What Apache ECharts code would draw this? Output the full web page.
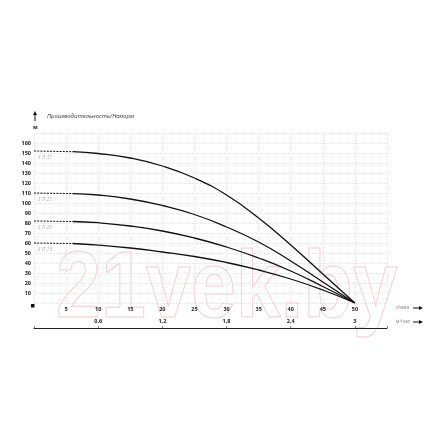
<!DOCTYPE html>
<html><head><meta charset="utf-8">
<script src="https://cdn.jsdelivr.net/npm/echarts@6/dist/echarts.min.js"></script>
<style>html,body{margin:0;padding:0;background:#fff}#c{width:440px;height:440px}</style>
</head><body><div id="c"></div>
<script>
// Flow (l/min) and head (m)
const seriesNames = ['3 П 37', '3 П 27', '3 П 20', '3 П 15'];
const flowDashed = [0, 6];
const headDashed37 = [152, 151.3];
const headDashed27 = [110, 109.4];
const headDashed20 = [82, 81.5];
const headDashed15 = [60, 59.5];
const flowSolid = [6, 10, 15, 20, 25, 30, 35, 40, 45, 50];
const head37 = [151.3, 149.5, 145, 137, 125, 108, 85, 58, 29, 0];
const head27 = [109.4, 108, 104, 97.5, 88.5, 76, 61, 42, 21, 0];
const head20 = [81.5, 80.3, 77, 72, 65, 56, 45, 32, 16.5, 0];
const head15 = [59.5, 57.8, 55, 51, 46.5, 40.5, 33, 24, 13, 0];
const yTicks = [10,20,30,40,50,60,70,80,90,100,110,120,130,140,150,160];
const xTicks = [5,10,15,20,25,30,35,40,45,50];
const m3Ticks = [0.6, 1.2, 1.8, 2.4, 3];

const dashedHeads = [headDashed37, headDashed27, headDashed20, headDashed15];
const solidHeads = [head37, head27, head20, head15];
const zip = (xs, ys) => xs.map((x, i) => [x, ys[i]]);

const chart = echarts.init(document.getElementById('c'), null, {renderer: 'canvas'});
const series = [];
seriesNames.forEach((n, i) => {
  series.push({type: 'line', name: n + ' d', data: zip(flowDashed, dashedHeads[i]), showSymbol: false,
    lineStyle: {color: '#111', width: 1, type: [2, 1.2]}, silent: true, z: 3});
  series.push({type: 'line', name: n, data: zip(flowSolid, solidHeads[i]), showSymbol: false,
    smooth: true,
    lineStyle: {color: '#111', width: 1.3}, silent: true, z: 3});
});

const fmtNum = v => (Math.round(v * 10) / 10).toString().replace('.', ',');

chart.setOption({
  animation: false,
  backgroundColor: '#fff',
  grid: {left: 34, right: 53, top: 133, bottom: 137, containLabel: false},
  xAxis: [{
    type: 'value', min: 0, max: 55, interval: 5,
    axisLine: {show: false}, axisTick: {show: false},
    splitLine: {show: true, lineStyle: {color: '#e2e2e2', type: [1, 1], width: 1}},
    axisLabel: {margin: 3, fontSize: 5.5, fontWeight: 'bold', color: '#222', fontFamily: 'Open Sans',
      formatter: v => xTicks.includes(v) ? String(v) : ''}
  }, {
    type: 'value', min: 0, max: 3.3, interval: 0.6, position: 'bottom', offset: 25,
    axisLine: {show: true, lineStyle: {color: '#222', width: 1}},
    axisTick: {show: true, inside: true, length: 2, lineStyle: {color: '#888'}},
    splitLine: {show: false},
    axisLabel: {inside: true, margin: 4, fontSize: 5.5, fontWeight: 'bold', color: '#222', fontFamily: 'Open Sans',
      formatter: v => m3Ticks.some(t => Math.abs(t - v) < 1e-6) ? fmtNum(v) : ''}
  }],
  yAxis: {
    type: 'value', min: 0, max: 170, interval: 10,
    axisLine: {show: false}, axisTick: {show: false},
    splitLine: {show: true, lineStyle: {color: '#e2e2e2', type: [1, 1], width: 1}},
    axisLabel: {margin: 3, fontSize: 5.5, fontWeight: 'bold', color: '#222', fontFamily: 'Open Sans',
      formatter: v => yTicks.includes(v) ? String(v) : ''}
  },
  series: series
});

// labels and decorations placed via the chart's coordinate system
const graphics = [];
seriesNames.forEach((n, i) => {
  const p = chart.convertToPixel({gridIndex: 0}, [0.6, dashedHeads[i][0]]);
  graphics.push({type: 'text', x: p[0], y: p[1] + 4, silent: true,
    style: {text: n, fontSize: 5, fontStyle: 'italic', fill: '#aaa', fontFamily: 'Open Sans'}});
});
const o = chart.convertToPixel({gridIndex: 0}, [0, 0]);
graphics.push({type: 'rect', shape: {x: o[0] - 3, y: o[1] + 1, width: 3.5, height: 3.5}, style: {fill: '#111'}});
// up arrow before the title
graphics.push({type: 'line', shape: {x1: 35, y1: 114, x2: 35, y2: 121}, style: {stroke: '#111', lineWidth: 1}});
graphics.push({type: 'polygon', shape: {points: [[33, 115], [37, 115], [35, 111]]}, style: {fill: '#111'}});
graphics.push({type: 'text', x: 47, y: 113.5, style: {text: 'Производительность/Напорм', fontSize: 6, fontStyle: 'italic', fill: '#333', fontFamily: 'Open Sans'}});
graphics.push({type: 'text', x: 33, y: 124, style: {text: 'м', fontSize: 5.5, fontWeight: 'bold', fill: '#222', fontFamily: 'Open Sans'}});
const r1 = chart.convertToPixel({xAxisIndex: 0}, 55);
function arrowRight(x, y) {
  graphics.push({type: 'line', shape: {x1: x, y1: y, x2: x + 7, y2: y}, style: {stroke: '#111', lineWidth: 1}});
  graphics.push({type: 'polygon', shape: {points: [[x + 6, y - 2], [x + 6, y + 2], [x + 10, y]]}, style: {fill: '#111'}});
}
graphics.push({type: 'text', x: r1 + 9, y: 305.5, style: {text: 'л/мин', fontSize: 4.5, fill: '#777', fontFamily: 'Open Sans'}});
arrowRight(r1 + 26, 308);
graphics.push({type: 'text', x: r1 + 9, y: 319.5, style: {text: 'м³/час', fontSize: 4.5, fill: '#777', fontFamily: 'Open Sans'}});
arrowRight(r1 + 26, 322);
// faint watermark outline
graphics.push({type: 'text', x: 56, y: 244, scaleX: 0.86, z: -1, silent: true,
  style: {text: '21vek.by', fontSize: 94, fontWeight: 'bold', fontFamily: 'Liberation Sans',
    fill: 'rgba(0,0,0,0)', stroke: '#f3cdd2', lineWidth: 1}});
chart.setOption({graphic: graphics});
</script></body></html>
